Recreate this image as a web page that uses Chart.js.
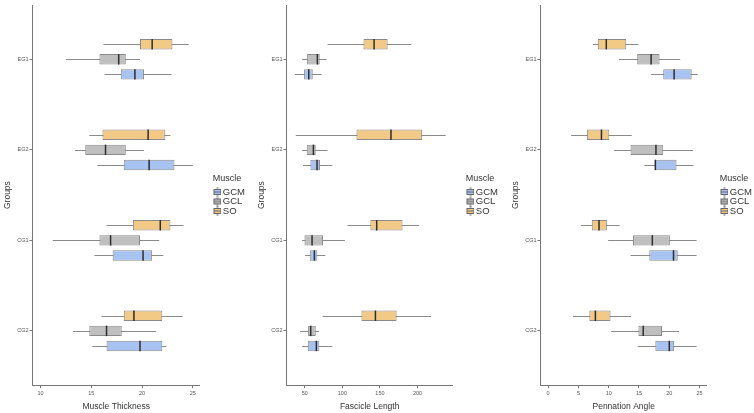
<!DOCTYPE html>
<html>
<head>
<meta charset="utf-8">
<script src="https://cdn.jsdelivr.net/npm/chart.js@4/dist/chart.umd.min.js"></script>
<style>
html, body { margin: 0; padding: 0; background: #fff; }
#wrap { position: relative; width: 754px; height: 413px; overflow: hidden; }
canvas { position: absolute; top: 0; }
</style>
</head>
<body>
<div id="wrap">
  <canvas id="c1" width="251" height="413" style="left:0px"></canvas>
  <canvas id="c2" width="251" height="413" style="left:251px"></canvas>
  <canvas id="c3" width="252" height="413" style="left:502px"></canvas>
</div>
<script>
const groups = ['EG1', 'EG2', 'CG1', 'CG2'];

// each row: [lower whisker, Q1, median, Q3, upper whisker], one row per group
const thicknessSO  = [[16.2, 19.8, 21.0, 23.0, 24.6], [14.8, 16.1, 20.6, 22.3, 22.8], [16.5, 19.1, 21.8, 22.8, 24.1], [16.0, 18.2, 19.2, 22.0, 24.0]];
const thicknessGCL = [[12.5, 15.8, 17.7, 18.4, 19.8], [13.4, 14.4, 16.4, 18.4, 20.2], [11.2, 15.8, 16.9, 19.8, 21.7], [13.2, 14.8, 16.5, 18.0, 21.4]];
const thicknessGCM = [[16.3, 17.9, 19.3, 20.2, 22.9], [15.6, 18.2, 20.7, 23.2, 25.0], [15.3, 17.1, 20.1, 21.0, 22.1], [15.1, 16.5, 19.8, 22.0, 22.4]];

const lengthSO  = [[80.4, 128.1, 142.2, 160.3, 191.6], [38.1, 118.8, 164.7, 206.2, 237.5], [106.9, 137.3, 145.7, 180.1, 202.2], [73.8, 125.4, 144.0, 172.2, 218.1]];
const lengthGCL = [[46.5, 53.1, 66.8, 69.9, 79.1], [46.5, 52.6, 61.5, 64.6, 80.4], [46.5, 49.6, 59.7, 74.3, 103.4], [43.8, 54.4, 57.9, 64.6, 69.0]];
const lengthGCM = [[36.8, 49.1, 55.3, 60.6, 72.5], [47.8, 57.5, 66.3, 70.3, 86.6], [50.4, 56.6, 62.8, 66.8, 77.3], [46.5, 54.0, 65.4, 69.4, 86.6]];

const angleSO  = [[7.4, 8.2, 9.6, 12.9, 14.9], [3.8, 6.4, 8.8, 10.1, 13.8], [5.4, 7.2, 8.4, 9.7, 11.8], [4.1, 6.8, 7.8, 10.3, 13.7]];
const angleGCL = [[11.7, 14.7, 17.0, 18.4, 21.8], [10.9, 13.6, 17.8, 19.0, 23.9], [9.9, 14.0, 17.2, 20.1, 24.5], [10.4, 14.9, 15.7, 18.8, 21.6]];
const angleGCM = [[17.0, 19.0, 20.8, 23.7, 24.7], [15.9, 17.6, 17.7, 21.2, 24.0], [13.6, 16.7, 20.7, 21.4, 24.5], [14.8, 17.7, 20.0, 20.8, 24.5]];

const thicknessTicks = [10, 15, 20, 25];
const lengthTicks = [50, 100, 150, 200];
const angleTicks = [0, 5, 10, 15, 20, 25];

const FONT = '"Liberation Sans", Arial, sans-serif';
const colors = { SO: '#f2ca86', GCL: '#bfbfbf', GCM: '#a6c3f2' };
const lineCol = '#8a8a8a';

// little boxplot glyph for the legend (drawn a bit to the right inside its canvas)
function makeIcon(fill) {
    const c = document.createElement('canvas');
    c.width = 12; c.height = 10;
    const g = c.getContext('2d');
    g.strokeStyle = '#666';
    g.lineWidth = 1;
    g.beginPath(); g.moveTo(8, 0); g.lineTo(8, 10); g.stroke();
    g.fillStyle = fill;
    g.fillRect(4.5, 2.5, 7, 5);
    g.strokeRect(4.5, 2.5, 7, 5);
    g.beginPath(); g.moveTo(4.5, 5); g.lineTo(11.5, 5); g.stroke();
    return c;
}

const boxPlugin = {
    id: 'boxWhiskers',
    afterLayout(chart) {
        // leave a gap between the panel and its legend
        const lg = chart.legend;
        const shift = chart.chartArea.right + 13 - lg.left;
        lg.left += shift;
        lg.right += shift;
    },
    beforeDatasetsDraw(chart) {
        const ctx = chart.ctx, xs = chart.scales.x;
        ctx.save();
        ctx.strokeStyle = lineCol;
        ctx.lineWidth = 1;
        chart.data.datasets.forEach((ds, i) => {
            chart.getDatasetMeta(i).data.forEach((bar, j) => {
                const s = ds.stats[j];
                const y = Math.round(bar.y) + 0.5;
                ctx.beginPath();
                ctx.moveTo(xs.getPixelForValue(s[0]), y);
                ctx.lineTo(xs.getPixelForValue(s[4]), y);
                ctx.stroke();
            });
        });
        ctx.restore();
    },
    afterDatasetsDraw(chart) {
        const ctx = chart.ctx, xs = chart.scales.x;
        ctx.save();
        ctx.strokeStyle = '#2e2e2e';
        ctx.lineWidth = 1.5;
        chart.data.datasets.forEach((ds, i) => {
            chart.getDatasetMeta(i).data.forEach((bar, j) => {
                const s = ds.stats[j];
                const x = xs.getPixelForValue(s[2]);
                ctx.beginPath();
                ctx.moveTo(x, bar.y - bar.height / 2);
                ctx.lineTo(x, bar.y + bar.height / 2);
                ctx.stroke();
            });
        });
        ctx.restore();
    }
};

function makePanel(id, title, xmin, xmax, ticks, so, gcl, gcm, padLeft, padRight) {
    const series = [['SO', so], ['GCL', gcl], ['GCM', gcm]];
    const datasets = series.map(([name, stats]) => ({
        label: name,
        stats: stats,
        data: stats.map((s, i) => ({ x: [s[1], s[3]], y: i + 1 })),
        backgroundColor: colors[name],
        borderColor: lineCol,
        borderWidth: 1,
        borderSkipped: false,
        categoryPercentage: 0.5,
        barPercentage: 0.69
    }));
    const icons = {};
    series.forEach(([name]) => { icons[name] = makeIcon(colors[name]); });

    new Chart(document.getElementById(id), {
        type: 'bar',
        data: { datasets: datasets },
        plugins: [boxPlugin],
        options: {
            indexAxis: 'y',
            responsive: false,
            animation: false,
            layout: { padding: { left: padLeft, right: padRight, top: 5, bottom: 1 } },
            plugins: {
                tooltip: { enabled: false },
                legend: {
                    position: 'right',
                    align: 'center',
                    fullSize: false,
                    reverse: true,
                    title: {
                        display: true, text: 'Muscle', position: 'start', color: '#333',
                        font: { family: FONT, size: 9 }, padding: { top: 0, bottom: 2 }
                    },
                    labels: {
                        usePointStyle: true,
                        pointStyleWidth: 5.25,
                        padding: 0,
                        color: '#333',
                        font: { family: FONT, size: 9.5 },
                        generateLabels(chart) {
                            const items = Chart.defaults.plugins.legend.labels.generateLabels(chart);
                            items.forEach(it => { it.pointStyle = icons[it.text]; });
                            return items;
                        }
                    }
                }
            },
            scales: {
                x: {
                    type: 'linear', min: xmin, max: xmax,
                    afterBuildTicks: s => { s.ticks = ticks.map(v => ({ value: v })); },
                    grid: { display: true, drawOnChartArea: false, drawTicks: true, tickLength: 3, color: '#777' },
                    border: { display: true, color: '#777', width: 1 },
                    ticks: { font: { family: FONT, size: 5.5 }, color: '#555', padding: 2, maxRotation: 0 },
                    title: { display: true, text: title, color: '#333', font: { family: FONT, size: 8.5 }, padding: { top: 3, bottom: 0 } }
                },
                y: {
                    type: 'linear', min: 0.4, max: 4.6, reverse: true, offset: false,
                    afterBuildTicks: s => { s.ticks = groups.map((g, i) => ({ value: i + 1 })); },
                    grid: { display: true, offset: false, drawOnChartArea: false, drawTicks: true, tickLength: 3, color: '#777' },
                    border: { display: true, color: '#777', width: 1 },
                    ticks: { font: { family: FONT, size: 5.5 }, color: '#555', padding: 1, callback: v => groups[v - 1] },
                    title: { display: true, text: 'Groups', color: '#333', font: { family: FONT, size: 8.5 }, padding: { top: 3, bottom: 3 } }
                }
            }
        }
    });
}

makePanel('c1', 'Muscle Thickness', 9.2, 25.7, thicknessTicks, thicknessSO, thicknessGCL, thicknessGCM, 0, 9);
makePanel('c2', 'Fascicle Length', 25.7, 247, lengthTicks, lengthSO, lengthGCL, lengthGCM, 3, 7);
makePanel('c3', 'Pennation Angle', -1.26, 26.2, angleTicks, angleSO, angleGCL, angleGCM, 6, 5);
</script>
</body>
</html>
